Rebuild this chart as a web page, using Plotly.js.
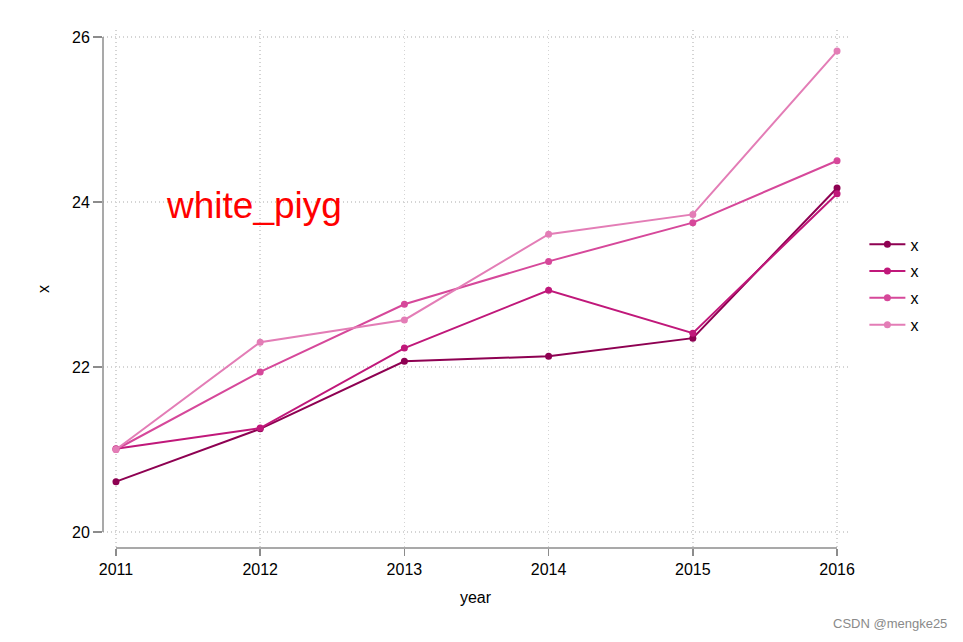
<!DOCTYPE html>
<html>
<head>
<meta charset="utf-8">
<script src="https://cdn.plot.ly/plotly-3.0.1.min.js"></script>
<style>html,body{margin:0;padding:0;background:#fff;}#chart{width:963px;height:642px;}</style>
</head>
<body>
<div id="chart"></div>
<script>
const years = [2011, 2012, 2013, 2014, 2015, 2016];
const series1 = [20.61, 21.25, 22.07, 22.13, 22.35, 24.17];
const series2 = [21.01, 21.26, 22.23, 22.93, 22.41, 24.10];
const series3 = [21.00, 21.94, 22.76, 23.28, 23.75, 24.50];
const series4 = [21.00, 22.30, 22.57, 23.61, 23.85, 25.83];
const seriesNames = ["x", "x", "x", "x"];
const colors = ["#8e0152", "#c0187a", "#d6489a", "#e37db6"];
const yTicks = [20, 22, 24, 26];

const allSeries = [series1, series2, series3, series4];
const traces = allSeries.map((s, i) => ({
  x: years, y: s, name: seriesNames[i], type: "scatter", mode: "lines+markers",
  legendgroup: "g" + i,
  line: {color: colors[i], width: 2},
  marker: {color: colors[i], size: 7}
}));

const font = {family: "Liberation Sans, Arial, sans-serif", size: 16, color: "#000"};
const layout = {
  width: 963, height: 642,
  paper_bgcolor: "#fff", plot_bgcolor: "#fff",
  margin: {l: 103, r: 115, t: 30, b: 94},
  font: font,
  showlegend: true,
  legend: {x: 1.022, xanchor: "left", y: 0.508, yanchor: "middle", font: font, tracegroupgap: 3, itemwidth: 36},
  xaxis: {
    range: [2010.91, 2016.076], tickvals: years, ticktext: years.map(String),
    showline: false, zeroline: false,
    showgrid: true, gridcolor: "#d4d4d4", griddash: "1px,3px", gridwidth: 1.5,
    ticks: "outside", ticklen: 7, tickwidth: 1.5, tickcolor: "#8c8c8c",
    tickfont: font,
    title: {text: "year", font: font, standoff: 14}
  },
  yaxis: {
    range: [19.806, 26.085], tickvals: yTicks, ticktext: yTicks.map(String),
    showline: false, zeroline: false,
    showgrid: true, gridcolor: "#d4d4d4", griddash: "1px,3px", gridwidth: 1.5,
    ticks: "outside", ticklen: 9, tickwidth: 1.5, tickcolor: "#8c8c8c",
    tickfont: font,
    title: {text: "x", font: font, standoff: 18}
  },
  shapes: [
    {type: "line", xref: "x", yref: "paper", x0: years[0], x1: years[years.length - 1], y0: 0, y1: 0,
     line: {color: "#8c8c8c", width: 1.5}},
    {type: "line", xref: "paper", yref: "y", x0: 0, x1: 0, y0: yTicks[0], y1: yTicks[yTicks.length - 1],
     line: {color: "#8c8c8c", width: 1.5}}
  ],
  annotations: [
    {text: "white_piyg", xref: "x", yref: "y", x: 2011.33, y: 23.96, xanchor: "left", yanchor: "middle",
     showarrow: false, font: {family: "Liberation Sans, Arial, sans-serif", size: 37, color: "#ff0000"}},
    {text: "CSDN @mengke25", xref: "paper", yref: "paper", x: 1.135, y: -0.145, xanchor: "right", yanchor: "middle",
     showarrow: false, font: {family: "Liberation Sans, Arial, sans-serif", size: 13, color: "#8a8a8a"}}
  ]
};

Plotly.newPlot("chart", traces, layout, {displayModeBar: false, staticPlot: true});
</script>
</body>
</html>
